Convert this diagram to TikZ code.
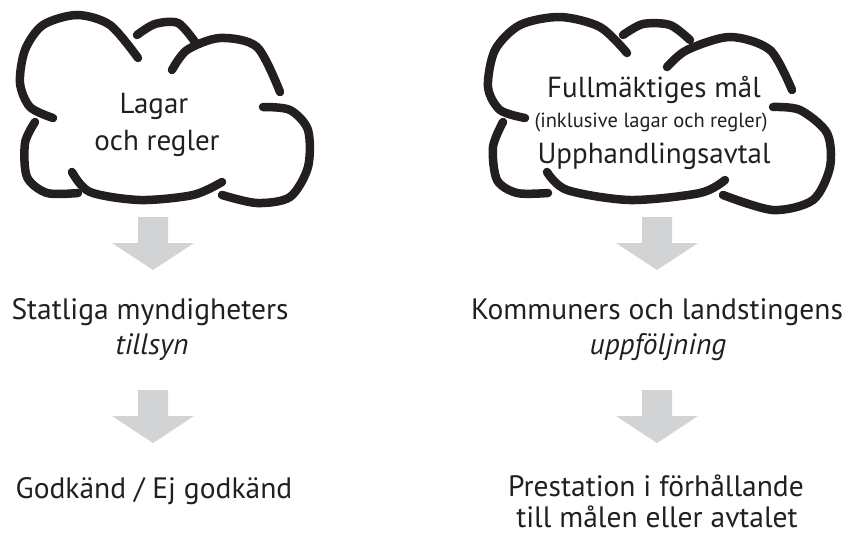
\documentclass[tikz,border=0pt]{standalone}
\usepackage{fontspec}
\setmainfont{PT Sans}
\definecolor{ink}{HTML}{231F20}
\definecolor{arrowgray}{HTML}{D1D3D4}
\tikzset{
  cloudline/.style={line width=8.5pt, line cap=round, ink},
  bigtext/.style={anchor=base, inner sep=0pt, text=ink, font=\fontsize{29.5}{34}\selectfont},
  cloudtext/.style={anchor=base, inner sep=0pt, text=ink, font=\fontsize{29}{34}\selectfont},
  smalltext/.style={anchor=base, inner sep=0pt, text=ink, font=\fontsize{20.5}{24}\selectfont},
  blockarrow/.style={fill=arrowgray, draw=none}
}
\newcommand\myblockarrow[3]{% x, top, tip
  \fill[blockarrow] (#1-15,#2) -- (#1+15,#2) -- (#1+15,#3-27) -- (#1+41,#3-27) -- (#1,#3) -- (#1-41,#3-27) -- (#1-15,#3-27) -- cycle;}
\begin{document}
\begin{tikzpicture}[x=1pt,y=-1pt]
\useasboundingbox (0,0) rectangle (851,536);
% left cloud
\draw[cloudline] plot[smooth] coordinates {(53,118) (30,107) (20,83) (25,50) (43,25) (77,15) (110,25) (138,58)};
\draw[cloudline] plot[smooth] coordinates {(137,35) (155,24) (178,23) (195,42)};
\draw[cloudline] plot[smooth] coordinates {(172,70) (187,50) (220,38) (257,47) (280,92)};
\draw[cloudline] plot[smooth] coordinates {(263,107) (290,110) (308,130) (308,167) (290,197) (257,203) (222,195)};
\draw[cloudline] plot[smooth] coordinates {(72,172) (90,192) (140,200) (193,195) (222,182)};
\draw[cloudline] plot[smooth] coordinates {(35,122) (25,143) (27,177) (47,193) (78,193)};
% right cloud
\draw[cloudline] plot[smooth] coordinates {(525,118) (500,110) (488,87) (495,50) (520,25) (560,17) (600,27) (627,53)};
\draw[cloudline] plot[smooth] coordinates {(623,35) (643,24) (670,25) (690,40)};
\draw[cloudline] plot[smooth] coordinates {(667,67) (687,50) (730,37) (770,50) (792,90)};
\draw[cloudline] plot[smooth] coordinates {(773,107) (800,110) (827,133) (830,167) (813,200) (773,210) (723,195)};
\draw[cloudline] plot[smooth] coordinates {(547,172) (567,190) (630,200) (700,193) (725,180)};
\draw[cloudline] plot[smooth] coordinates {(503,122) (493,147) (497,180) (517,193) (548,193)};
% cloud texts
\node[cloudtext] (lagar) at (154,113) {Lagar};
\node[cloudtext] (regler) at (157,150) {och regler};
\node[cloudtext] (mal) at (654,97) {Fullmäktiges mål};
\node[smalltext] (inkl) at (651,127) {(inklusive lagar och regler)};
\node[cloudtext] (avtal) at (654,163) {Upphandlingsavtal};
% arrows
\myblockarrow{153}{217}{270}
\myblockarrow{657}{217}{270}
\myblockarrow{153}{390}{443}
\myblockarrow{657}{390}{443}
% texts
\node[bigtext] (statl) at (150,319) {Statliga myndigheters};
\node[bigtext] (tills) at (152,354) {\itshape tillsyn};
\node[bigtext] (komm) at (657,319) {Kommuners och landstingens};
\node[bigtext] (uppf) at (658,354) {\itshape uppföljning};
\node[bigtext] (godk) at (154,498) {Godkänd / Ej godkänd};
\node[bigtext] (prest) at (656,496) {Prestation i förhållande};
\node[bigtext] (till) at (657,527) {till målen eller avtalet};
\end{tikzpicture}
\end{document}
